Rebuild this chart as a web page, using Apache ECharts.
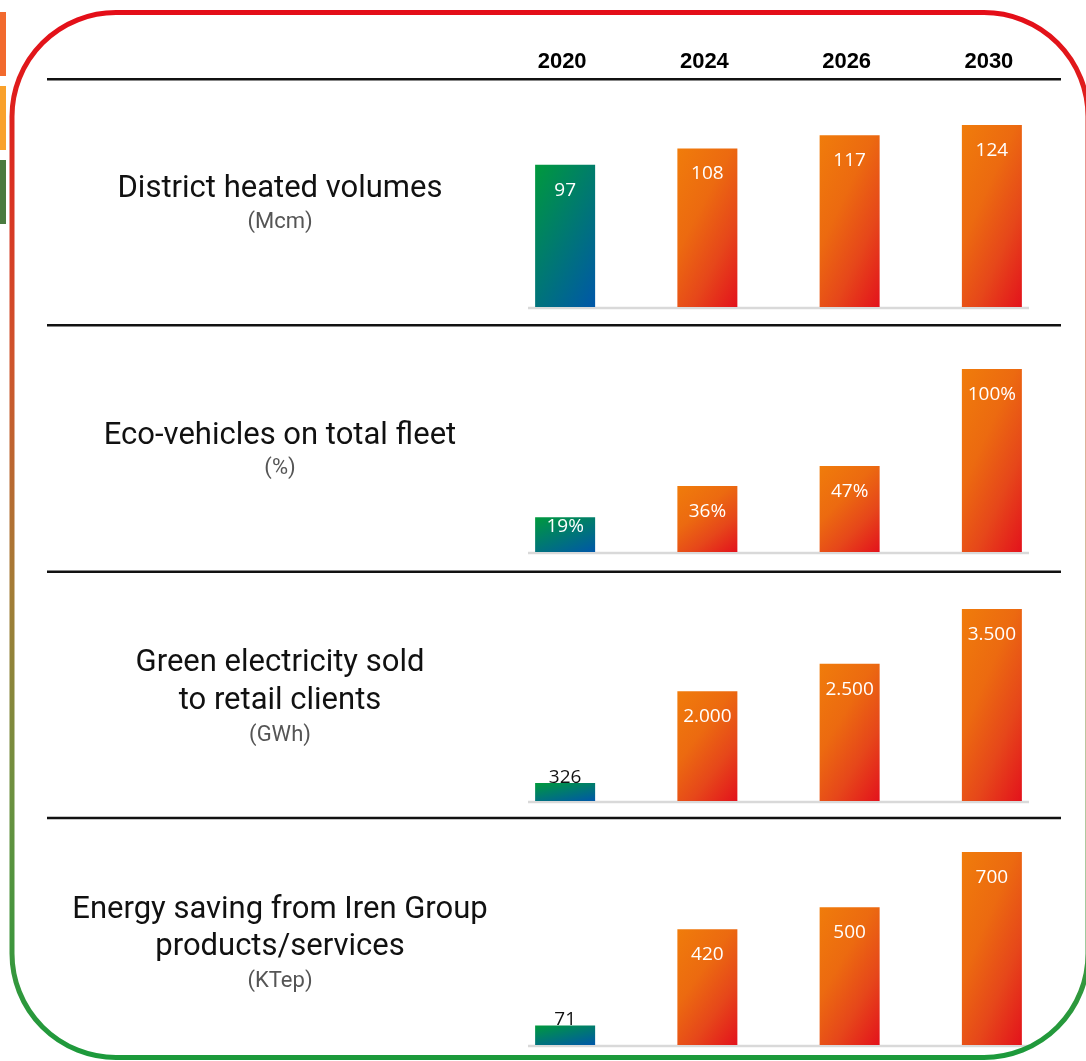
<!DOCTYPE html>
<html>
<head>
<meta charset="utf-8">
<script src="https://cdn.jsdelivr.net/npm/echarts@6/dist/echarts.min.js"></script>
<style>
  html, body { margin: 0; padding: 0; background: #ffffff; }
  #chart { width: 1086px; height: 1061px; }
</style>
</head>
<body>
<div id="chart"></div>
<script>
// Category labels (column headers)
const years = ['2020', '2024', '2026', '2030'];

// KPI values per year
const districtHeat = [97, 108, 117, 124];          // Mcm
const ecoVehicles = [19, 36, 47, 100];             // %
const greenElectricity = [326, 2000, 2500, 3500];  // GWh
const energySaving = [71, 420, 500, 700];          // KTep

// Row captions
const titleLines = [
  ['District heated volumes'],
  ['Eco-vehicles on total fleet'],
  ['Green electricity sold', 'to retail clients'],
  ['Energy saving from Iren Group', 'products/services']
];
const unitLabels = ['(Mcm)', '(%)', '(GWh)', '(KTep)'];

const seriesValues = [districtHeat, ecoVehicles, greenElectricity, energySaving];

// Panel layout (pixels) and axis maxima
const panelTop = [125, 369, 609, 852];
const panelBottom = [307, 552, 801, 1045];
const axisMax = [124, 100, 3500, 700];
const titleY = [[189], [436], [663, 701], [910, 947]];
const unitY = [222, 468, 735, 981];
const separatorY = [79.3, 325.3, 571.7, 818];

const BAR_W = 60;

function thousands(v) {
  return String(v).replace(/\B(?=(\d{3})+(?!\d))/g, '.');
}
const formatters = [
  v => String(v),
  v => v + '%',
  v => thousands(v),
  v => String(v)
];

// Diagonal fill: weight horizontal/vertical shares of the ramp independent of bar shape
function diagonalFill(stops, w, h) {
  const a = 0.42, b = 0.58;
  const c = 1 / (a * a / (w * w) + b * b / (h * h));
  return new echarts.graphic.LinearGradient(0, 0, c * a / (w * w), c * b / (h * h), stops);
}
const greenBlue = [
  { offset: 0, color: '#00993c' },
  { offset: 1, color: '#0057a9' }
];
const orangeRed = [
  { offset: 0, color: '#f07c0b' },
  { offset: 0.38, color: '#ec6a10' },
  { offset: 0.68, color: '#e6471a' },
  { offset: 1, color: '#e3121c' }
];

function labelFor(v, max, h) {
  if (v / max < 0.12) return { position: 'top', distance: -4, color: '#111111' };
  if (h < 50) return { position: 'insideTop', distance: 0, color: '#ffffff' };
  return { position: 'insideTop', distance: 16, color: '#ffffff' };
}

const grids = [], xAxes = [], yAxes = [], series = [];
seriesValues.forEach((vals, p) => {
  const gh = panelBottom[p] - panelTop[p];
  grids.push({ left: 494, right: 23, top: panelTop[p], height: gh });
  xAxes.push({
    type: 'category', gridIndex: p, data: years,
    axisLine: { show: false }, axisTick: { show: false }, axisLabel: { show: false }
  });
  yAxes.push({
    type: 'value', gridIndex: p, min: 0, max: axisMax[p], show: false,
    splitLine: { show: false }
  });
  series.push({
    type: 'bar', xAxisIndex: p, yAxisIndex: p, barWidth: BAR_W,
    animation: false,
    data: vals.map((v, i) => {
      const h = Math.max(v / axisMax[p] * gh, 1);
      return {
        value: v,
        itemStyle: { color: diagonalFill(i === 0 ? greenBlue : orangeRed, BAR_W, h) },
        label: labelFor(v, axisMax[p], h)
      };
    }),
    label: {
      show: true,
      fontFamily: 'Open Sans',
      fontSize: 19,
      lineHeight: 19,
      formatter: prm => formatters[p](prm.value)
    }
  });
});

// Year headers above the first panel
xAxes.push({
  type: 'category', gridIndex: 0, position: 'top', data: years,
  axisLine: { show: false }, axisTick: { show: false },
  axisLabel: {
    show: true, margin: 52, color: '#000000',
    fontFamily: 'Liberation Sans', fontWeight: 'bold', fontSize: 22, lineHeight: 22,
    padding: [0, 6, 0, 0]
  }
});

const graphics = [];

// Rounded frame with red-to-green vertical ramp
graphics.push({
  type: 'rect', z: 1,
  shape: { x: 12, y: 12.5, width: 1076, height: 1045, r: 104 },
  style: {
    fill: 'none', lineWidth: 5,
    stroke: new echarts.graphic.LinearGradient(0, 0, 0, 1, [
      { offset: 0, color: '#e40d18' },
      { offset: 0.33, color: '#cf542c' },
      { offset: 0.55, color: '#a47c36' },
      { offset: 0.75, color: '#6c9140' },
      { offset: 1, color: '#1b9a3b' }
    ])
  }
});

// Goal badges along the left edge
[[12, 76, '#f26a2e'], [86, 150, '#f9a12b'], [160, 224, '#4a7b3f']].forEach(([y0, y1, col]) => {
  graphics.push({ type: 'rect', shape: { x: 0, y: y0, width: 6, height: y1 - y0 }, style: { fill: col } });
});

// Row separators
separatorY.forEach(y => {
  graphics.push({
    type: 'line', shape: { x1: 47, y1: y, x2: 1061, y2: y },
    style: { stroke: '#111111', lineWidth: 2.6 }
  });
});

// Light baselines under the bars
panelBottom.forEach(y => {
  graphics.push({
    type: 'line', z: -1, shape: { x1: 528, y1: y + 1, x2: 1029, y2: y + 1 },
    style: { stroke: '#d9d9d9', lineWidth: 2.5 }
  });
});

// Row captions
titleLines.forEach((lines, p) => {
  lines.forEach((t, k) => {
    graphics.push({
      type: 'text',
      style: {
        text: t, x: 280, y: titleY[p][k], align: 'center', verticalAlign: 'middle',
        fontFamily: 'Roboto', fontWeight: 400, fontSize: 31, fill: '#111111'
      }
    });
  });
  graphics.push({
    type: 'text',
    style: {
      text: unitLabels[p], x: 280, y: unitY[p], align: 'center', verticalAlign: 'middle',
      fontFamily: 'Roboto', fontWeight: 400, fontSize: 22, fill: '#555555'
    }
  });
});

const chart = echarts.init(document.getElementById('chart'), null, { renderer: 'canvas' });
chart.setOption({
  animation: false,
  backgroundColor: '#ffffff',
  grid: grids,
  xAxis: xAxes,
  yAxis: yAxes,
  series: series,
  graphic: graphics
});
</script>
</body>
</html>
